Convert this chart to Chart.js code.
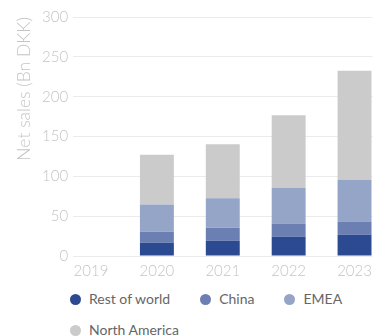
<!DOCTYPE html>
<html>
<head>
<meta charset="utf-8">
<script src="https://cdn.jsdelivr.net/npm/chart.js@4"></script>
<style>
    html, body {
        margin: 0;
        padding: 0;
        background: #fff;
        width: 378px;
        height: 336px;
        overflow: hidden;
    }
    .chart-wrap {
        position: absolute;
        left: 0;
        top: 0;
        width: 378px;
        height: 288px;
    }
    .legend {
        position: absolute;
        left: 70px;
        top: 289px;
        width: 300px;
        display: flex;
        flex-wrap: wrap;
        column-gap: 30px;
        row-gap: 11px;
        font-family: Lato, "Open Sans", sans-serif;
        font-size: 14px;
        color: #666;
    }
    .legend-item {
        display: flex;
        align-items: center;
        height: 20px;
        line-height: 20px;
    }
    .legend-dot {
        width: 11px;
        height: 11px;
        border-radius: 50%;
        margin-right: 8px;
    }
</style>
</head>
<body>
<div class="chart-wrap"><canvas id="salesChart"></canvas></div>
<div class="legend" id="legend"></div>

<script>
// Net sales by region, Bn DKK
const years = [2019, 2020, 2021, 2022, 2023];
const seriesNames = ['Rest of world', 'China', 'EMEA', 'North America'];
const seriesColors = ['#2c4a92', '#6c7fb2', '#95a5c8', '#cbcbcb'];

const restOfWorld  = [null, 16.5, 19.1, 24.2, 26.7];
const china        = [null, 14.0, 16.5, 16.5, 16.5];
const emea         = [null, 34.3, 36.9, 44.5, 52.1];
const northAmerica = [null, 62.3, 67.8, 91.5, 137.2];

const yTicks = [0, 50, 100, 150, 200, 250, 300];

const tickColor = '#c4c4c4';
const tickFont = { family: 'Lato', size: 15, weight: '300' };

document.addEventListener('DOMContentLoaded', () => {
    createSalesChart();
    buildLegend();
});

// Pair each value with its year for the linear x axis
function toPoints(values) {
    return years.map((year, i) => ({ x: year, y: values[i] }));
}

function createSalesChart() {
    const ctx = document.getElementById('salesChart').getContext('2d');
    const allSeries = [restOfWorld, china, emea, northAmerica];

    new Chart(ctx, {
        type: 'bar',
        data: {
            datasets: allSeries.map((values, i) => ({
                label: seriesNames[i],
                data: toPoints(values),
                backgroundColor: seriesColors[i],
                borderWidth: 0,
                categoryPercentage: 1,
                barPercentage: 0.515
            }))
        },
        options: {
            responsive: true,
            maintainAspectRatio: false,
            animation: false,
            layout: {
                padding: { left: 14, top: 17, right: 1, bottom: 2 }
            },
            plugins: {
                legend: { display: false },
                tooltip: { enabled: false }
            },
            scales: {
                x: {
                    type: 'linear',
                    stacked: true,
                    offset: false,
                    min: years[0] - 0.272,
                    max: years[years.length - 1] + 0.272,
                    grid: { display: false, drawTicks: false },
                    border: { display: false },
                    ticks: {
                        stepSize: 1,
                        includeBounds: false,
                        maxRotation: 0,
                        padding: 6,
                        color: tickColor,
                        font: tickFont,
                        callback: value => String(value)
                    }
                },
                y: {
                    stacked: true,
                    min: yTicks[0],
                    max: yTicks[yTicks.length - 1],
                    grid: {
                        color: '#ebebeb',
                        drawTicks: false
                    },
                    border: { display: false },
                    ticks: {
                        stepSize: 50,
                        padding: 5,
                        color: tickColor,
                        font: tickFont
                    },
                    title: {
                        display: true,
                        text: 'Net sales (Bn DKK)',
                        align: 'end',
                        color: tickColor,
                        font: { family: 'Lato', size: 17.5, weight: '300' },
                        padding: { top: 0, bottom: 2 }
                    }
                }
            }
        }
    });
}

// Simple HTML legend under the chart
function buildLegend() {
    const container = document.getElementById('legend');
    seriesNames.forEach((name, i) => {
        const item = document.createElement('div');
        item.className = 'legend-item';
        item.innerHTML = `<span class="legend-dot" style="background:${seriesColors[i]}"></span><span>${name}</span>`;
        container.appendChild(item);
    });
}
</script>
</body>
</html>
